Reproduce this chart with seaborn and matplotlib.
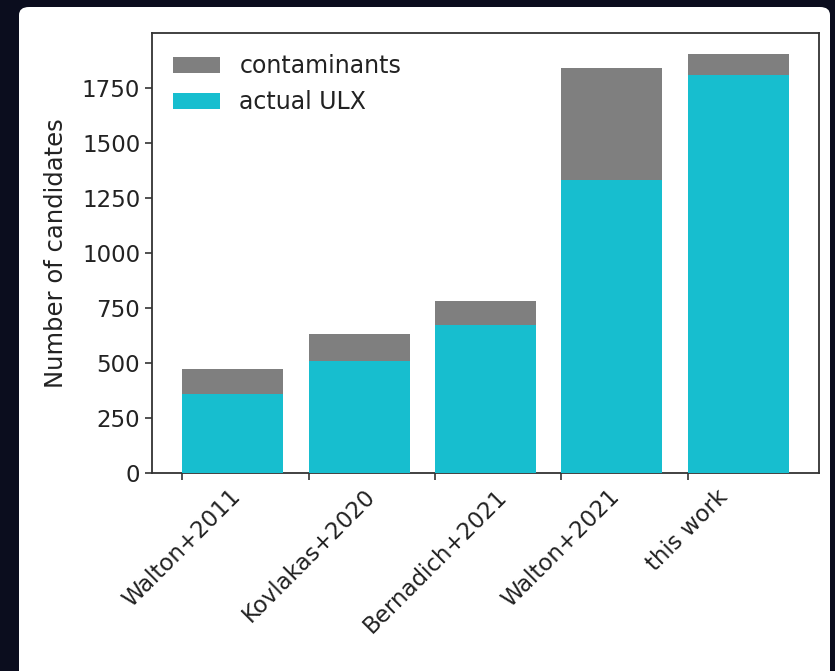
import numpy as np
import matplotlib
matplotlib.use("Agg")
import matplotlib.pyplot as plt
from matplotlib.patches import FancyBboxPatch
import seaborn as sns

# Catalogue sizes of ULX candidate samples
catalogues = ["Walton+2011", "Kovlakas+2020", "Bernadich+2021", "Walton+2021", "this work"]
total_candidates = [472, 634, 785, 1842, 1906]
actual_ulx = [362, 509, 675, 1333, 1812]

GRAY = "#7f7f7f"
CYAN = "#17becf"
FS = 16.5

plt.rcParams["font.family"] = ["DejaVu Sans"]

fig = plt.figure(figsize=(8.35, 6.71), dpi=100)
fig.patch.set_facecolor("#0b0d1e")

# white card behind the plot
top = 1 - 7 / 671
card = FancyBboxPatch((19 / 835, -0.03), (830 - 19) / 835, top + 0.03,
                      boxstyle="round,pad=0,rounding_size=0.012",
                      transform=fig.transFigure, facecolor="white",
                      edgecolor="none", zorder=-10)
fig.patches.append(card)

ax = fig.add_axes([152 / 835, 1 - 473.3 / 671, (819 - 152) / 835, (473.3 - 33) / 671])
ax.set_zorder(5)
ax.set_facecolor("white")

# full bar height = contaminants stacked on top of actual ULX
sns.barplot(x=catalogues, y=total_candidates, color=GRAY, saturation=1,
            width=0.8, linewidth=0, label="contaminants", ax=ax, zorder=2)
sns.barplot(x=catalogues, y=actual_ulx, color=CYAN, saturation=1,
            width=0.8, linewidth=0, label="actual ULX", ax=ax, zorder=3)

n = len(catalogues)
ax.set_xticks(np.arange(n) - 0.4)
ax.set_xticklabels(catalogues, rotation=45, ha="center", fontsize=FS)
ax.set_xlim(-0.64, n - 1 + 0.64)
ax.set_ylim(0, max(total_candidates) * 1.05)
ax.set_yticks(np.arange(0, 1751, 250))
ax.tick_params(axis="y", labelsize=FS)
ax.tick_params(length=5, width=1.2, color="#333333")
ax.set_ylabel("Number of candidates", fontsize=FS + 1, labelpad=10, color="#222222")
for lbl in ax.get_xticklabels() + ax.get_yticklabels():
    lbl.set_color("#222222")
for sp in ax.spines.values():
    sp.set_linewidth(1.3)
    sp.set_color("#333333")

leg = ax.legend(loc="upper left", frameon=False, fontsize=FS + 0.5,
                handlelength=2.0, handleheight=0.7)
for t in leg.get_texts():
    t.set_color("#222222")

fig.savefig("out.png", dpi=100, facecolor=fig.get_facecolor())
